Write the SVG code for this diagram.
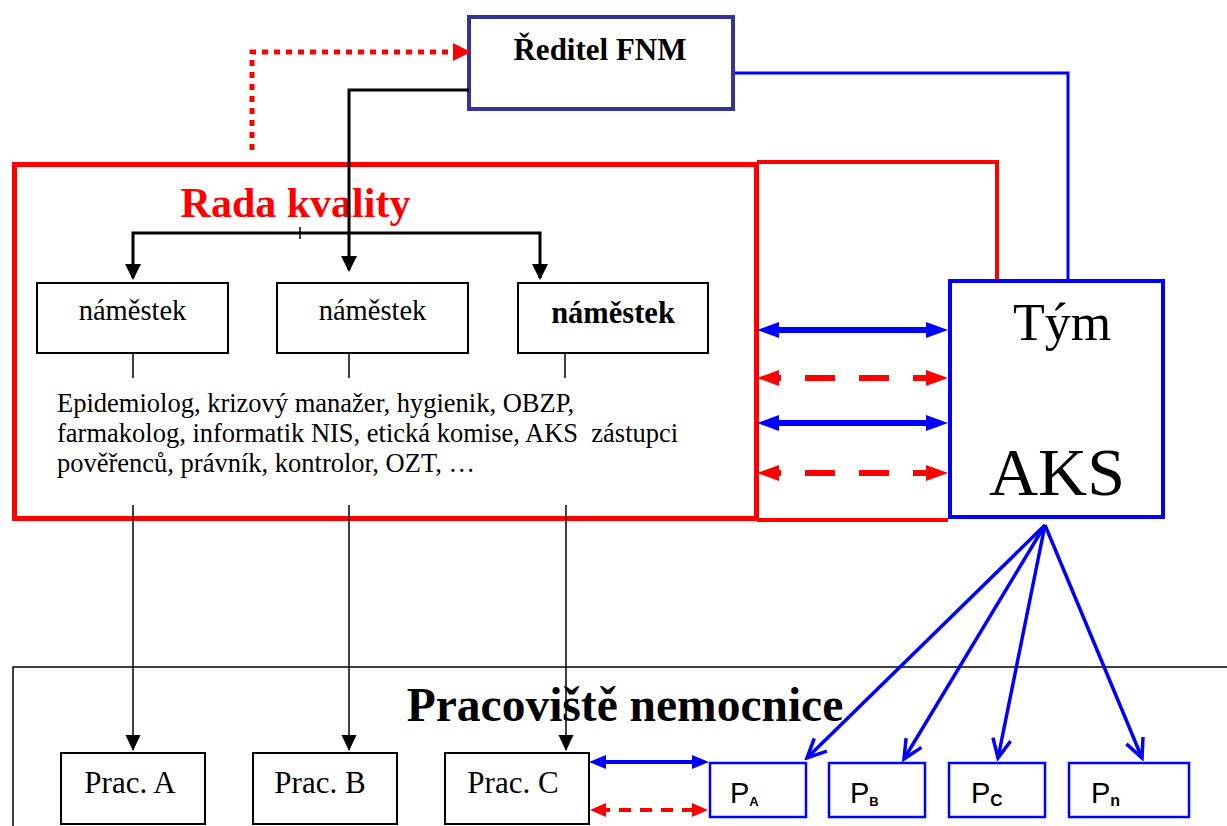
<svg xmlns="http://www.w3.org/2000/svg" width="1227" height="826" viewBox="0 0 1227 826">
<style>
.serif{font-family:"Liberation Serif","Times New Roman",serif;fill:#000}
.sans{font-family:"Liberation Sans",Arial,sans-serif;fill:#000}
.bold{font-weight:bold}
.box{fill:#fff;stroke:#000;stroke-width:2}
.pbox{fill:#fff;stroke:#0000FF;stroke-width:2.5}
.blk{fill:none;stroke:#000;stroke-width:3}
.thin{fill:none;stroke:#000;stroke-width:1.5}
.blue{fill:none;stroke:#0000FF}
.red{fill:none;stroke:#FF0000}
</style>
<defs>
<marker id="aBlack" markerUnits="userSpaceOnUse" markerWidth="16" markerHeight="16" viewBox="0 0 16 16" refX="14" refY="8" orient="auto"><path d="M0,0 L16,8 L0,16 z" fill="#000"/></marker>
<marker id="aThin" markerUnits="userSpaceOnUse" markerWidth="16" markerHeight="16" viewBox="0 0 16 16" refX="15" refY="8" orient="auto"><path d="M0,0.5 L16,8 L0,15.5 z" fill="#000"/></marker>
<marker id="aBlueBig" markerUnits="userSpaceOnUse" markerWidth="22" markerHeight="16" viewBox="0 0 22 16" refX="9" refY="8" orient="auto-start-reverse"><path d="M0,0 L22,8 L0,16 z" fill="#0000FF"/></marker>
<marker id="aRedBig" markerUnits="userSpaceOnUse" markerWidth="22" markerHeight="16" viewBox="0 0 22 16" refX="9" refY="8" orient="auto-start-reverse"><path d="M0,0 L22,8 L0,16 z" fill="#FF0000"/></marker>
<marker id="aBlueSm" markerUnits="userSpaceOnUse" markerWidth="17" markerHeight="14" viewBox="0 0 17 14" refX="8" refY="7" orient="auto-start-reverse"><path d="M0,0 L17,7 L0,14 z" fill="#0000FF"/></marker>
<marker id="aRedSm" markerUnits="userSpaceOnUse" markerWidth="16" markerHeight="14" viewBox="0 0 16 14" refX="8" refY="7" orient="auto-start-reverse"><path d="M0,0 L16,7 L0,14 z" fill="#FF0000"/></marker>
<marker id="aRedDot" markerUnits="userSpaceOnUse" markerWidth="18" markerHeight="18" viewBox="0 0 18 18" refX="8" refY="9" orient="auto"><path d="M0,0 L18,9 L0,18 z" fill="#FF0000"/></marker>
<marker id="aChev" markerUnits="userSpaceOnUse" markerWidth="24" markerHeight="24" viewBox="-21 -12 24 24" refX="0" refY="0" orient="auto"><path d="M-19,-9 L0,0 L-19,9" fill="none" stroke="#0000FF" stroke-width="3.5"/></marker>
</defs>

<g id="frame-pracoviste">
<path class="thin" d="M1227,667 H13 V826"/>
<text class="serif bold" x="625" y="721" font-size="47.5" text-anchor="middle">Pracoviště nemocnice</text>
</g>

<g id="rada-kvality">
<rect x="14.5" y="164.5" width="742" height="354" fill="none" stroke="#FF0000" stroke-width="5"/>
<text x="295.5" y="217" font-size="42" text-anchor="middle" class="serif bold" style="fill:#FF0000">Rada kvality</text>
<text class="serif" x="57" y="412" font-size="26.5">Epidemiolog, krizový manažer, hygienik, OBZP,</text>
<text class="serif" x="57" y="442" font-size="26.5" xml:space="preserve">farmakolog, informatik NIS, etická komise, AKS  zástupci</text>
<text class="serif" x="57" y="472" font-size="26.5">pověřenců, právník, kontrolor, OZT, …</text>
</g>

<g id="reditel">
<rect x="469" y="17" width="264" height="92" fill="#fff" stroke="#333399" stroke-width="4"/>
<text class="serif bold" x="600" y="60" font-size="31" text-anchor="middle">Ředitel FNM</text>
</g>

<g id="namestek1">
<rect class="box" x="37" y="283" width="191" height="70"/>
<text class="serif" x="132.5" y="320" font-size="28.5" text-anchor="middle">náměstek</text>
</g>
<g id="namestek2">
<rect class="box" x="277" y="283" width="191" height="70"/>
<text class="serif" x="372.5" y="320" font-size="28.5" text-anchor="middle">náměstek</text>
</g>
<g id="namestek3">
<rect class="box" x="518" y="283" width="190" height="70"/>
<text class="serif bold" x="613" y="323" font-size="30.5" text-anchor="middle">náměstek</text>
</g>

<g id="tym-aks">
<rect x="950" y="281" width="213" height="236" fill="#fff" stroke="#0000FF" stroke-width="4"/>
<text class="serif" x="1062" y="340" font-size="52" text-anchor="middle">Tým</text>
<text class="serif" x="1057" y="495" font-size="68" text-anchor="middle">AKS</text>
</g>

<g id="prac-a">
<rect class="box" x="61" y="753" width="144" height="71"/>
<text class="serif" x="130" y="793" font-size="31" text-anchor="middle">Prac. A</text>
</g>
<g id="prac-b">
<rect class="box" x="253" y="753" width="144" height="71"/>
<text class="serif" x="320" y="793" font-size="31" text-anchor="middle">Prac. B</text>
</g>
<g id="prac-c">
<rect class="box" x="445" y="753" width="144" height="71"/>
<text class="serif" x="513" y="793" font-size="31" text-anchor="middle">Prac. C</text>
</g>

<g id="p-a">
<rect class="pbox" x="710" y="763" width="96" height="54"/>
<text class="sans" x="730" y="803" font-size="29">P<tspan class="bold" font-size="13" dy="3">A</tspan></text>
</g>
<g id="p-b">
<rect class="pbox" x="829" y="763" width="96" height="54"/>
<text class="sans" x="850" y="803" font-size="29">P<tspan class="bold" font-size="13" dy="3">B</tspan></text>
</g>
<g id="p-c">
<rect class="pbox" x="949" y="763" width="96" height="54"/>
<text class="sans" x="971" y="803" font-size="29">P<tspan class="bold" font-size="17" dy="3">C</tspan></text>
</g>
<g id="p-n">
<rect class="pbox" x="1069" y="763" width="120" height="54"/>
<text class="sans" x="1091" y="803" font-size="29">P<tspan class="bold" font-size="16" dy="3">n</tspan></text>
</g>

<g id="connectors">
<path class="red" d="M252,150 V52 H461" stroke-width="5" stroke-dasharray="6 6" marker-end="url(#aRedDot)"/>
<path class="blk" d="M469,90 H349 V270" marker-end="url(#aBlack)"/>
<path class="blk" d="M300,233 H133 V278" marker-end="url(#aBlack)"/>
<path class="blk" d="M300,233 H540 V278" marker-end="url(#aBlack)"/>
<path class="thin" d="M300,227 V239"/>
<path class="thin" d="M133,354 V378 M349,354 V378 M565,354 V378"/>
<path class="thin" d="M133,505 V750" marker-end="url(#aThin)"/>
<path class="thin" d="M349,505 V750" marker-end="url(#aThin)"/>
<path class="thin" d="M566,505 V750" marker-end="url(#aThin)"/>
<path class="red" d="M757,162 H997 V279" stroke-width="4"/>
<path class="red" d="M757,520 H948" stroke-width="4"/>
<path class="blue" d="M735,73 H1068 V279" stroke-width="3"/>
<path class="blue" d="M770,330 H935" stroke-width="6" marker-start="url(#aBlueBig)" marker-end="url(#aBlueBig)"/>
<path class="red" d="M770,378 H935" stroke-width="6" stroke-dasharray="30 24" stroke-dashoffset="19" marker-start="url(#aRedBig)" marker-end="url(#aRedBig)"/>
<path class="blue" d="M770,423 H935" stroke-width="6" marker-start="url(#aBlueBig)" marker-end="url(#aBlueBig)"/>
<path class="red" d="M770,473 H935" stroke-width="6" stroke-dasharray="30 24" stroke-dashoffset="19" marker-start="url(#aRedBig)" marker-end="url(#aRedBig)"/>
<path class="blue" d="M598,762 H700" stroke-width="4" marker-start="url(#aBlueSm)" marker-end="url(#aBlueSm)"/>
<path class="red" d="M598,810 H700" stroke-width="4" stroke-dasharray="12 9" stroke-dashoffset="0" marker-start="url(#aRedSm)" marker-end="url(#aRedSm)"/>
<path class="blue" d="M1045,525 L807,758" stroke-width="3.5" marker-end="url(#aChev)"/>
<path class="blue" d="M1045,525 L904,759" stroke-width="3.5" marker-end="url(#aChev)"/>
<path class="blue" d="M1045,525 L998,758" stroke-width="3.5" marker-end="url(#aChev)"/>
<path class="blue" d="M1045,525 L1142,758" stroke-width="3.5" marker-end="url(#aChev)"/>
</g>
</svg>
